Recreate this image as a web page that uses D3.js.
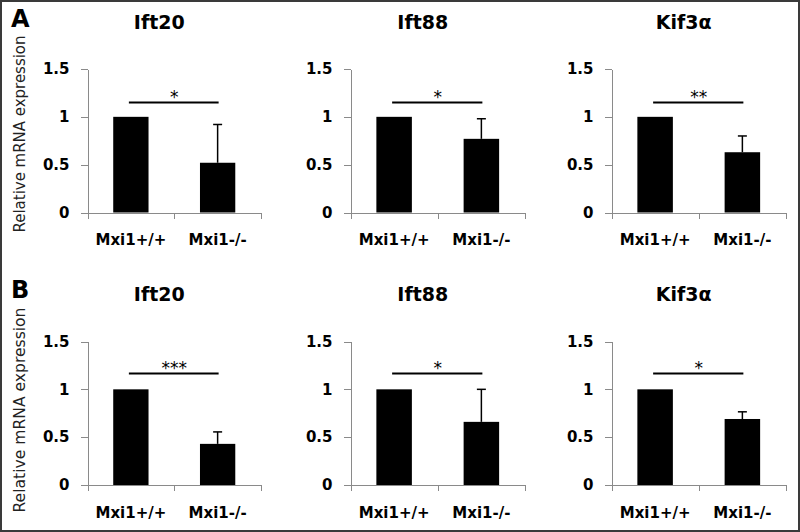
<!DOCTYPE html>
<html>
<head>
<meta charset="utf-8">
<script src="https://cdn.jsdelivr.net/npm/d3@7"></script>
<style>
  html, body { margin: 0; padding: 0; background: #fff; }
  svg { display: block; }
  text { font-family: "DejaVu Sans", sans-serif; }
</style>
</head>
<body>
<svg id="chart" width="800" height="532"></svg>
<script>
// ---- data ----
const groups = ["Mxi1+/+", "Mxi1-/-"];
const genes = ["Ift20", "Ift88", "Kif3\u03b1"];
const panelLabels = ["A", "B"];
const wtA = [1, 1, 1];
const koA = [0.52, 0.77, 0.63];
const errA = [0.40, 0.21, 0.17];
const sigA = ["*", "*", "**"];
const bracketA = 1.15;
const wtB = [1, 1, 1];
const koB = [0.43, 0.66, 0.69];
const errB = [0.125, 0.34, 0.075];
const sigB = ["***", "*", "*"];
const bracketB = 1.165;
const yTicks = [0, 0.5, 1, 1.5];
const yTickLabels = ["0", "0.5", "1", "1.5"];
const yTitle = "Relative mRNA expression";

// ---- layout ----
const svg = d3.select("#chart");
const W = 800, H = 532;
svg.append("rect").attr("x", 1).attr("y", 1).attr("width", W - 2).attr("height", H - 2)
  .attr("fill", "#fff").attr("stroke", "#3a3a3a").attr("stroke-width", 2);

const colX = [[87.5, 261], [350.5, 525], [611.5, 786]];
const rows = [
  { wt: wtA, ko: koA, err: errA, sig: sigA, bracket: bracketA, y0: 212.5, y1: 69, label: panelLabels[0], labelY: 27, ytitleC: 134, ytitleLen: 197 },
  { wt: wtB, ko: koB, err: errB, sig: sigB, bracket: bracketB, y0: 485, y1: 341.5, label: panelLabels[1], labelY: 298, ytitleC: 410, ytitleLen: 205 }
];
const axisColor = "#8a8a8a";

rows.forEach((row, ri) => {
  const y = d3.scaleLinear().domain([0, 1.5]).range([row.y0, row.y1]);

  // panel letter
  svg.append("text").attr("x", 11).attr("y", row.labelY)
    .attr("font-size", 24).attr("font-weight", "bold").attr("fill", "#000")
    .text(row.label);

  // y title
  svg.append("text")
    .attr("transform", `translate(25,${row.ytitleC}) rotate(-90)`)
    .attr("text-anchor", "middle")
    .attr("font-size", 15).attr("fill", "#222")
    .attr("textLength", row.ytitleLen).attr("lengthAdjust", "spacingAndGlyphs")
    .text(yTitle);

  genes.forEach((gene, gi) => {
    const [xa, xb] = colX[gi];
    const x = d3.scaleBand().domain(groups).range([xa, xb])
      .paddingInner(0.593).paddingOuter(0.2965);
    const xb2 = d3.scaleLinear().domain([0, groups.length]).range([xa, xb]);
    const g = svg.append("g");

    // title
    g.append("text")
      .attr("x", (xa + xb) / 2 - 15)
      .attr("y", row.y1 - 40.5)
      .attr("text-anchor", "middle")
      .attr("font-size", 19).attr("font-weight", "bold").attr("fill", "#000")
      .text(gene);

    // y axis
    const ya = g.append("g").attr("transform", `translate(${xa},0)`)
      .call(d3.axisLeft(y).tickValues(yTicks).tickSize(7).tickSizeOuter(0).tickPadding(11)
        .tickFormat((d, i) => yTickLabels[i]));
    ya.selectAll("path,line").attr("stroke", axisColor).attr("shape-rendering", "crispEdges");
    ya.selectAll("text").attr("font-size", 15).attr("font-weight", "bold")
      .attr("font-family", "DejaVu Sans").attr("fill", "#000");

    // x axis (category boundary ticks)
    const xaG = g.append("g").attr("transform", `translate(0,${row.y0})`)
      .call(d3.axisBottom(xb2).tickValues(d3.range(groups.length + 1)).tickSize(6).tickSizeOuter(0).tickFormat(""));
    xaG.selectAll("path,line").attr("stroke", axisColor).attr("shape-rendering", "crispEdges");

    // bars
    const vals = [row.wt[gi], row.ko[gi]];
    g.selectAll("rect.bar").data(groups).join("rect")
      .attr("x", d => x(d)).attr("width", x.bandwidth())
      .attr("y", (d, i) => y(vals[i]))
      .attr("height", (d, i) => y(0) - y(vals[i]))
      .attr("fill", "#000");

    // error bar (upper only) on KO
    const cx = x(groups[1]) + x.bandwidth() / 2;
    const top = y(row.ko[gi] + row.err[gi]);
    g.append("line").attr("x1", cx).attr("x2", cx)
      .attr("y1", y(row.ko[gi])).attr("y2", top)
      .attr("stroke", "#000").attr("stroke-width", 1.5);
    g.append("line").attr("x1", cx - 4.5).attr("x2", cx + 4.5)
      .attr("y1", top).attr("y2", top)
      .attr("stroke", "#000").attr("stroke-width", 1.5);

    // significance bracket
    const c1 = x(groups[0]) + x.bandwidth() / 2;
    const by = y(row.bracket);
    g.append("line").attr("x1", c1 - 2).attr("x2", cx + 1)
      .attr("y1", by).attr("y2", by)
      .attr("stroke", "#000").attr("stroke-width", 2);
    g.append("text").attr("x", (c1 + cx) / 2).attr("y", by + 0.5)
      .attr("text-anchor", "middle").attr("font-size", 17).attr("fill", "#000")
      .text(row.sig[gi]);

    // category labels
    g.selectAll("text.cat").data(groups).join("text")
      .attr("class", "cat")
      .attr("x", d => x(d) + x.bandwidth() / 2)
      .attr("y", row.y0 + 32.5)
      .attr("text-anchor", "middle")
      .attr("font-size", 15).attr("font-weight", "bold").attr("fill", "#000")
      .text(d => d);
  });
});
</script>
</body>
</html>
